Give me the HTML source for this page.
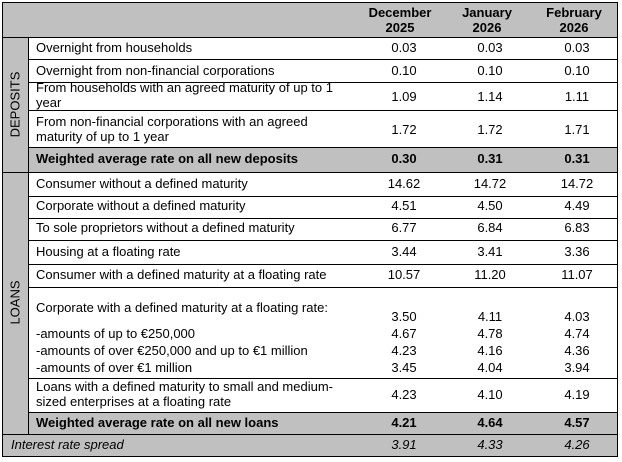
<!DOCTYPE html>
<html><head><style>
body{margin:0;width:622px;height:462px;background:#fff;font-family:"Liberation Sans",Arial,sans-serif;font-size:13px;color:#000;position:relative;overflow:hidden}
.a{position:absolute;white-space:nowrap;line-height:15px}
.h{position:absolute;height:1px;background:#000}
.v{position:absolute;width:1px;background:#000}
.g{position:absolute;background:#c0c0c0}
.n{position:absolute;width:60px;text-align:center;line-height:15px}
b{font-weight:bold}
</style></head><body>
<div class="g" style="left:2px;top:2px;width:615px;height:35px"></div>
<div class="g" style="left:2px;top:37px;width:26px;height:397px"></div>
<div class="g" style="left:28px;top:147px;width:589px;height:25px"></div>
<div class="g" style="left:28px;top:412px;width:589px;height:22px"></div>
<div class="g" style="left:2px;top:434px;width:615px;height:22px"></div>

<div class="h" style="left:2px;top:2px;width:616px"></div>
<div class="h" style="left:2px;top:37px;width:616px"></div>
<div class="h" style="left:28px;top:59px;width:590px"></div>
<div class="h" style="left:28px;top:82px;width:590px"></div>
<div class="h" style="left:28px;top:110px;width:590px"></div>
<div class="h" style="left:28px;top:147px;width:590px"></div>
<div class="h" style="left:2px;top:172px;width:616px"></div>
<div class="h" style="left:28px;top:196px;width:590px"></div>
<div class="h" style="left:28px;top:218px;width:590px"></div>
<div class="h" style="left:28px;top:240px;width:590px"></div>
<div class="h" style="left:28px;top:264px;width:590px"></div>
<div class="h" style="left:28px;top:287px;width:590px"></div>
<div class="h" style="left:28px;top:378px;width:590px"></div>
<div class="h" style="left:28px;top:412px;width:590px"></div>
<div class="h" style="left:2px;top:434px;width:616px"></div>
<div class="h" style="left:2px;top:456px;width:616px"></div>
<div class="v" style="left:2px;top:2px;height:455px"></div>
<div class="v" style="left:28px;top:37px;height:397px"></div>
<div class="v" style="left:617px;top:2px;height:455px"></div>

<div class="a" style="left:-25px;top:97px;width:80px;text-align:center;transform:rotate(-90deg)">DEPOSITS</div>
<div class="a" style="left:-25px;top:295px;width:80px;text-align:center;transform:rotate(-90deg)">LOANS</div>

<div class="n" style="left:368px;top:5px;width:64px"><b>December<br>2025</b></div>
<div class="n" style="left:455px;top:5px;width:64px"><b>January<br>2026</b></div>
<div class="n" style="left:542px;top:5px;width:64px"><b>February<br>2026</b></div>

<div class="a" style="left:36px;top:40px">Overnight from households</div>
<div class="a" style="left:36px;top:63px">Overnight from non-financial corporations</div>
<div class="a" style="left:36px;top:80px">From households with an agreed maturity of up to 1<br>year</div>
<div class="a" style="left:36px;top:114px">From non-financial corporations with an agreed<br>maturity of up to 1 year</div>
<div class="a" style="left:36px;top:151px"><b>Weighted average rate on all new deposits</b></div>
<div class="a" style="left:36px;top:176px">Consumer without a defined maturity</div>
<div class="a" style="left:36px;top:198px">Corporate without a defined maturity</div>
<div class="a" style="left:36px;top:220px">To sole proprietors without a defined maturity</div>
<div class="a" style="left:36px;top:244px">Housing at a floating rate</div>
<div class="a" style="left:36px;top:267px">Consumer with a defined maturity at a floating rate</div>
<div class="a" style="left:36px;top:300px">Corporate with a defined maturity at a floating rate:</div>
<div class="a" style="left:36px;top:326px">-amounts of up to €250,000</div>
<div class="a" style="left:36px;top:343px">-amounts of over €250,000 and up to €1 million</div>
<div class="a" style="left:36px;top:360px">-amounts of over €1 million</div>
<div class="a" style="left:36px;top:379px">Loans with a defined maturity to small and medium-<br>sized enterprises at a floating rate</div>
<div class="a" style="left:36px;top:415px"><b>Weighted average rate on all new loans</b></div>
<div class="a" style="left:11px;top:437px"><i>Interest rate spread</i></div>

<div class="n" style="left:374px;top:40px">0.03</div><div class="n" style="left:460px;top:40px">0.03</div><div class="n" style="left:547px;top:40px">0.03</div>
<div class="n" style="left:374px;top:63px">0.10</div><div class="n" style="left:460px;top:63px">0.10</div><div class="n" style="left:547px;top:63px">0.10</div>
<div class="n" style="left:374px;top:89px">1.09</div><div class="n" style="left:460px;top:89px">1.14</div><div class="n" style="left:547px;top:89px">1.11</div>
<div class="n" style="left:374px;top:122px">1.72</div><div class="n" style="left:460px;top:122px">1.72</div><div class="n" style="left:547px;top:122px">1.71</div>
<div class="n" style="left:374px;top:151px"><b>0.30</b></div><div class="n" style="left:460px;top:151px"><b>0.31</b></div><div class="n" style="left:547px;top:151px"><b>0.31</b></div>
<div class="n" style="left:374px;top:176px">14.62</div><div class="n" style="left:460px;top:176px">14.72</div><div class="n" style="left:547px;top:176px">14.72</div>
<div class="n" style="left:374px;top:198px">4.51</div><div class="n" style="left:460px;top:198px">4.50</div><div class="n" style="left:547px;top:198px">4.49</div>
<div class="n" style="left:374px;top:220px">6.77</div><div class="n" style="left:460px;top:220px">6.84</div><div class="n" style="left:547px;top:220px">6.83</div>
<div class="n" style="left:374px;top:244px">3.44</div><div class="n" style="left:460px;top:244px">3.41</div><div class="n" style="left:547px;top:244px">3.36</div>
<div class="n" style="left:374px;top:267px">10.57</div><div class="n" style="left:460px;top:267px">11.20</div><div class="n" style="left:547px;top:267px">11.07</div>
<div class="n" style="left:374px;top:309px">3.50</div><div class="n" style="left:460px;top:309px">4.11</div><div class="n" style="left:547px;top:309px">4.03</div>
<div class="n" style="left:374px;top:326px">4.67</div><div class="n" style="left:460px;top:326px">4.78</div><div class="n" style="left:547px;top:326px">4.74</div>
<div class="n" style="left:374px;top:343px">4.23</div><div class="n" style="left:460px;top:343px">4.16</div><div class="n" style="left:547px;top:343px">4.36</div>
<div class="n" style="left:374px;top:360px">3.45</div><div class="n" style="left:460px;top:360px">4.04</div><div class="n" style="left:547px;top:360px">3.94</div>
<div class="n" style="left:374px;top:387px">4.23</div><div class="n" style="left:460px;top:387px">4.10</div><div class="n" style="left:547px;top:387px">4.19</div>
<div class="n" style="left:374px;top:415px"><b>4.21</b></div><div class="n" style="left:460px;top:415px"><b>4.64</b></div><div class="n" style="left:547px;top:415px"><b>4.57</b></div>
<div class="n" style="left:374px;top:437px"><i>3.91</i></div><div class="n" style="left:460px;top:437px"><i>4.33</i></div><div class="n" style="left:547px;top:437px"><i>4.26</i></div>
</body></html>
